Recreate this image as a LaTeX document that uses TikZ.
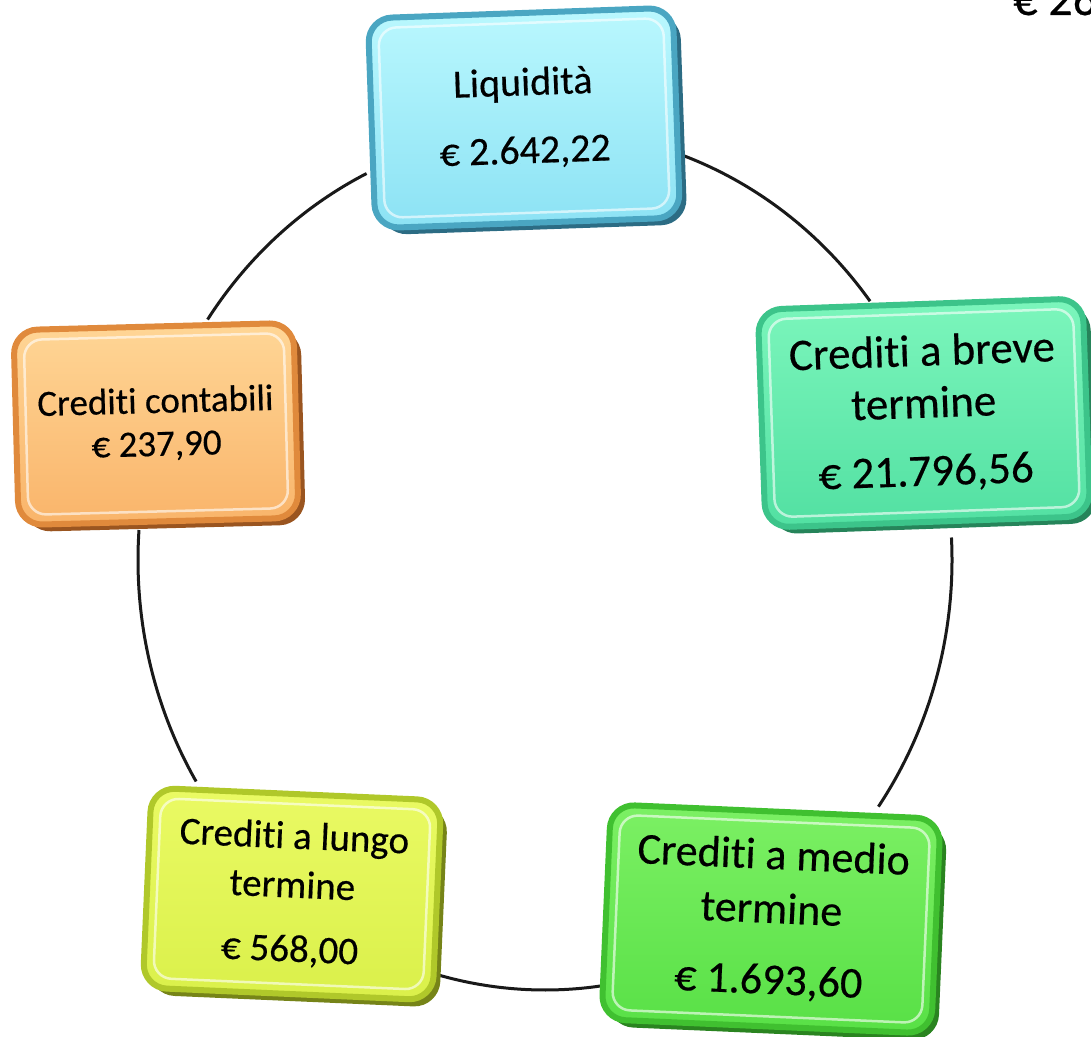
\documentclass[tikz,border=0pt]{standalone}
\usepackage{fontspec}
\setmainfont{Carlito}[Ligatures={NoCommon,NoRequired,NoContextual,NoDiscretionary},FakeBold=0.4]
\usetikzlibrary{calc}
\pgfdeclarelayer{background}
\pgfsetlayers{background,main}
\definecolor{liqT}{HTML}{BAF8FE}\definecolor{liqB}{HTML}{8CE2F4}\definecolor{liqE}{HTML}{4AA6C2}\definecolor{liqS}{HTML}{2C6C84}
\definecolor{conT}{HTML}{FFD696}\definecolor{conB}{HTML}{F9B46A}\definecolor{conE}{HTML}{E08A3C}\definecolor{conS}{HTML}{9A5520}
\definecolor{breT}{HTML}{7CF6BC}\definecolor{breB}{HTML}{52E0A2}\definecolor{breE}{HTML}{3CC48A}\definecolor{breS}{HTML}{26845A}
\definecolor{medT}{HTML}{7CF064}\definecolor{medB}{HTML}{58E046}\definecolor{medE}{HTML}{40C030}\definecolor{medS}{HTML}{2A8420}
\definecolor{lunT}{HTML}{EAFA64}\definecolor{lunB}{HTML}{DAF04A}\definecolor{lunE}{HTML}{B0C82A}\definecolor{lunS}{HTML}{768418}
\tikzset{
  face/.style={rounded corners=24pt, line width=6pt, align=center, inner sep=0pt, text=black},
  rim/.style={white, opacity=0.6, line width=2.5pt, rounded corners=18pt},
  ring/.style={line width=3pt, draw=black!90},
  total/.style={font=\fontsize{48}{56}\selectfont, anchor=base west, inner sep=0pt}
}
% name, x, y, angle, w, h, colour prefix, node options, text
\newcommand\pbox[9]{%
  \begin{scope}[shift={(#2,#3)}, rotate=#4, transform shape]
    \fill[#7S, rounded corners=26pt] (-#5/2+6,-#6/2-7) rectangle (#5/2+7,#6/2-6);
    \node[face, draw=#7E, top color=#7T, bottom color=#7B,
          minimum width=#5pt, minimum height=#6pt, #8] (#1) at (0,0) {#9};
    \draw[rim] (-#5/2+10,-#6/2+10) rectangle (#5/2-10,#6/2-10);
  \end{scope}}
\begin{document}
\begin{tikzpicture}[x=1pt,y=1pt]
  \useasboundingbox (0,0) rectangle (1091,1036);
  \clip (0,0) rectangle (1091,1036);

  \pbox{liq}{524}{918}{2}{305}{210}{liq}{font=\fontsize{40}{48}\selectfont}{Liquidità\\[20pt]€ 2.642,22}
  \pbox{con}{156}{612}{1.5}{280}{195}{con}{font=\fontsize{37}{43}\selectfont}{Crediti contabili\\€ 237,90}
  \pbox{bre}{924}{623}{2}{325}{218}{bre}{font=\fontsize{45}{52}\selectfont}{Crediti a breve\\termine\\[16pt]€ 21.796,56}
  \pbox{lun}{292}{142}{-2.5}{290}{200}{lun}{font=\fontsize{39}{49}\selectfont}{Crediti a lungo\\termine\\[15pt]€ 568,00}
  \pbox{med}{771}{117}{-2.5}{330}{215}{med}{font=\fontsize{44}{54}\selectfont}{Crediti a medio\\termine\\[17pt]€ 1.693,60}

  \node[total] (tot) at (1013,1021) {€ 26.938,28};

  \coordinate (ec) at (545,476);
  \begin{pgfonlayer}{background}
    \path (ec) ++(70:407pt and 430pt) coordinate (liqR);
    \path (ec) ++(3:407pt and 430pt) coordinate (breD);
    \path (ec) ++(-82:407pt and 430pt) coordinate (medL);
    \path (ec) ++(211:407pt and 430pt) coordinate (lunU);
    \path (ec) ++(146:407pt and 430pt) coordinate (conU);
    \draw[ring] (liqR) arc[start angle=70, end angle=37, x radius=407pt, y radius=430pt];
    \draw[ring] (breD) arc[start angle=3, end angle=-35, x radius=407pt, y radius=430pt];
    \draw[ring] (medL) arc[start angle=-82, end angle=-105, x radius=407pt, y radius=430pt];
    \draw[ring] (lunU) arc[start angle=211, end angle=176, x radius=407pt, y radius=430pt];
    \draw[ring] (conU) arc[start angle=146, end angle=116, x radius=407pt, y radius=430pt];
  \end{pgfonlayer}
\end{tikzpicture}
\end{document}
